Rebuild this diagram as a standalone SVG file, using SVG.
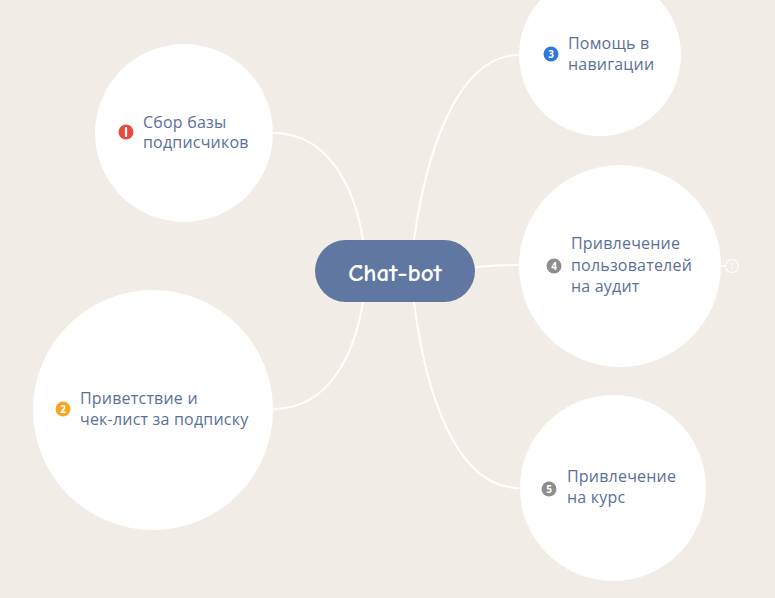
<svg xmlns="http://www.w3.org/2000/svg" width="775" height="598" viewBox="0 0 775 598">
<style>
.bg{fill:#f1ece6}
.topic{fill:#ffffff}
.lbl{font-family:"Open Sans","Noto Sans",sans-serif;font-size:16px;fill:#5b6f9b;letter-spacing:0.2px}
.conn{fill:none;stroke:#ffffff;stroke-width:2}
.mk{font-family:"Open Sans","Noto Sans",sans-serif;font-size:10px;font-weight:bold;fill:#ffffff;text-anchor:middle}
</style>
<rect class="bg" x="0" y="0" width="775" height="598"/>
<g id="connectors">
<path class="conn" d="M363 240 C355 190 330 133 273 133"/>
<path class="conn" d="M363 302 C355 352 330 409 273 409"/>
<path class="conn" d="M414 240 C425 160 455 55 519 55"/>
<path class="conn" d="M475 267 C495 265 505 265 519 265"/>
<path class="conn" d="M414 302 C425 390 455 488 519 488"/>
<path class="conn" d="M721 266 L725 266"/>
</g>
<g id="node1">
<circle class="topic" cx="184" cy="133" r="89"/>
<circle cx="126" cy="132" r="7.5" fill="#ea4a3d"/>
<rect x="124.9" y="127" width="2.2" height="10" fill="#ffffff"/>
<text class="lbl" x="143" y="128">Сбор базы</text>
<text class="lbl" x="143" y="148">подписчиков</text>
</g>
<g id="node2">
<circle class="topic" cx="153" cy="410" r="120"/>
<circle cx="63" cy="409" r="7.5" fill="#f5a623"/>
<text class="mk" x="63" y="412.6">2</text>
<text class="lbl" x="80" y="404">Приветствие и</text>
<text class="lbl" x="80" y="425">чек-лист за подписку</text>
</g>
<g id="node3">
<circle class="topic" cx="600" cy="55" r="81"/>
<circle cx="551" cy="54" r="7.5" fill="#2e77de"/>
<text class="mk" x="551" y="57.6">3</text>
<text class="lbl" x="568" y="49">Помощь в</text>
<text class="lbl" x="568" y="70">навигации</text>
</g>
<g id="node4">
<circle class="topic" cx="620" cy="266" r="101"/>
<circle cx="554" cy="266" r="7.5" fill="#8e8e8e"/>
<text class="mk" x="554" y="269.6">4</text>
<text class="lbl" x="571" y="249">Привлечение</text>
<text class="lbl" x="571" y="271">пользователей</text>
<text class="lbl" x="571" y="292">на аудит</text>
<circle cx="732" cy="266" r="6.5" fill="none" stroke="#ffffff" stroke-width="1.2"/>
<text x="732" y="269.5" font-family="Open Sans,sans-serif" font-size="9" fill="#ffffff" text-anchor="middle">1</text>
</g>
<g id="node5">
<circle class="topic" cx="613" cy="488" r="93"/>
<circle cx="549" cy="489" r="7.5" fill="#8e8e8e"/>
<text class="mk" x="549" y="492.6">5</text>
<text class="lbl" x="567" y="482">Привлечение</text>
<text class="lbl" x="567" y="503">на курс</text>
</g>
<g id="center">
<rect x="315" y="240" width="160" height="62" rx="31" fill="#5f77a1"/>
<text x="395" y="281" font-family="'Comic Neue','DejaVu Sans',sans-serif" font-size="25" font-weight="bold" fill="#ffffff" text-anchor="middle">Chat-bot</text>
</g>
</svg>
